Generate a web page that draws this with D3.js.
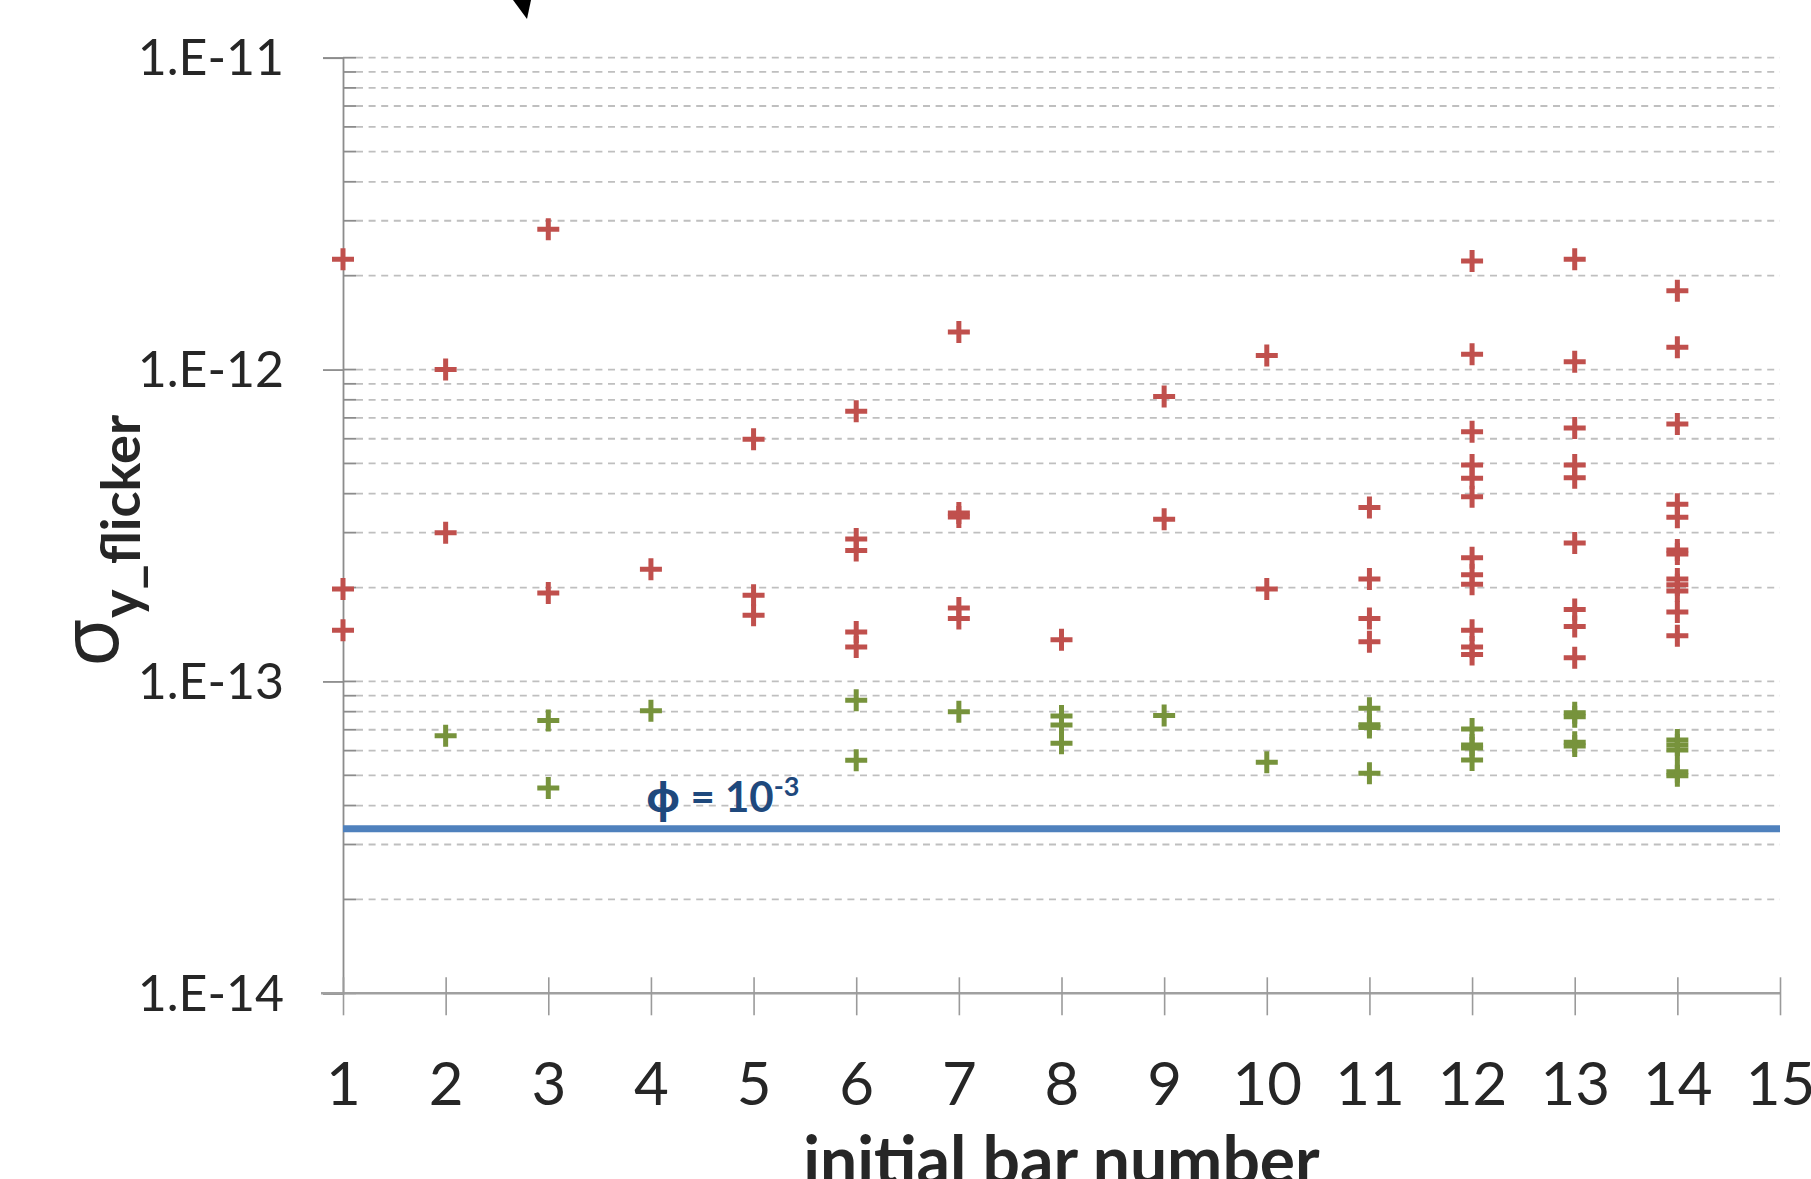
<!DOCTYPE html>
<html>
<head>
<meta charset="utf-8">
<script src="https://cdn.jsdelivr.net/npm/d3@7"></script>
<style>
  html, body { margin: 0; padding: 0; background: #fff; }
  svg { display: block; font-family: Lato, 'Noto Sans', sans-serif; }
</style>
</head>
<body>
<div id="chart"></div>
<script>
// bar numbers on the x axis
const barNumbers = d3.range(1, 16)
const yTickValues = [1e-11, 1e-12, 1e-13, 1e-14]

// sigma_y_flicker per initial bar, red points (upper cloud)
const redValues = [
  [2.26e-12, 1.98e-13, 1.46e-13],
  [1.0e-12, 3.0e-13],
  [2.82e-12, 1.92e-13],
  [2.29e-13],
  [5.98e-13, 1.89e-13, 1.63e-13],
  [7.35e-13, 2.86e-13, 2.63e-13, 1.44e-13, 1.29e-13],
  [1.32e-12, 3.47e-13, 3.37e-13, 1.72e-13, 1.59e-13],
  [1.36e-13],
  [8.19e-13, 3.31e-13],
  [1.11e-12, 1.98e-13],
  [3.61e-13, 2.13e-13, 1.59e-13, 1.34e-13],
  [2.23e-12, 1.12e-12, 6.32e-13, 4.94e-13, 4.48e-13, 3.91e-13, 2.49e-13, 2.2e-13, 2.05e-13, 1.46e-13, 1.29e-13, 1.22e-13],
  [2.26e-12, 1.06e-12, 6.49e-13, 4.94e-13, 4.5e-13, 2.78e-13, 1.7e-13, 1.5e-13, 1.19e-13],
  [1.79e-12, 1.18e-12, 6.69e-13, 3.7e-13, 3.36e-13, 2.64e-13, 2.56e-13, 2.13e-13, 2.04e-13, 1.95e-13, 1.67e-13, 1.4e-13]
]

// green points (lower cloud)
const greenValues = [
  [],
  [6.7e-14],
  [7.5e-14, 4.55e-14],
  [8.06e-14],
  [],
  [8.7e-14, 5.59e-14],
  [8.0e-14],
  [7.75e-14, 7.25e-14, 6.33e-14],
  [7.77e-14],
  [5.51e-14],
  [8.2e-14, 7.26e-14, 7.12e-14, 5.08e-14],
  [7.04e-14, 6.26e-14, 6.12e-14, 5.6e-14],
  [7.93e-14, 7.7e-14, 6.38e-14, 6.21e-14],
  [6.49e-14, 6.26e-14, 6.03e-14, 5.13e-14, 4.98e-14]
]

// threshold line for phi = 1e-3
const phiLevel = 3.37e-14

const width = 1811
const height = 1179
const plotLeft = 343
const plotRight = 1780
const plotTop = 57.7
const plotBottom = 993.3

const x = d3.scaleLinear().domain([1, 15]).range([plotLeft, plotRight])
const y = d3.scaleLog().domain([1e-14, 1e-11]).range([plotBottom, plotTop])

function flatten(series) {
  const out = []
  series.forEach((vals, i) => vals.forEach(v => out.push({ bar: i + 1, value: v })))
  return out
}

const svg = d3.select('#chart')
  .append('svg')
  .attr('width', width)
  .attr('height', height)

svg.append('rect').attr('width', width).attr('height', height).attr('fill', '#fff')

// fragment of an arrow from the figure above
svg.append('path')
  .attr('d', 'M513,0L527,19L531,0Z')
  .attr('fill', '#000')

// dashed gridlines at every log tick
const gridTicks = y.ticks()
svg.append('g').attr('class', 'grid')
  .selectAll('line')
  .data(gridTicks.filter(d => d > 1.001e-14))
  .enter().append('line')
  .attr('x1', plotLeft + 13)
  .attr('x2', plotRight)
  .attr('y1', d => y(d))
  .attr('y2', d => y(d))
  .attr('stroke', '#bfbfbf')
  .attr('stroke-width', 1.8)
  .attr('stroke-dasharray', '7,5.6')

// minor ticks inside the y axis
svg.append('g').attr('class', 'minor')
  .selectAll('line')
  .data(gridTicks)
  .enter().append('line')
  .attr('x1', plotLeft)
  .attr('x2', plotLeft + 13)
  .attr('y1', d => y(d))
  .attr('y2', d => y(d))
  .attr('stroke', '#8c8c8c')
  .attr('stroke-width', 1.8)

// y axis
const yAxis = d3.axisLeft(y)
  .tickValues(yTickValues)
  .tickSize(20)
  .tickPadding(39)
  .tickFormat(d => '1.E' + Math.round(Math.log10(d)))

const gy = svg.append('g')
  .attr('transform', `translate(${plotLeft},0)`)
  .call(yAxis)
gy.select('.domain').attr('stroke', '#8c8c8c').attr('stroke-width', 1.8)
gy.selectAll('.tick line').attr('stroke', '#8c8c8c').attr('stroke-width', 1.8)
gy.selectAll('.tick text')
  .attr('dy', null)
  .attr('y', 17)
  .attr('font-size', 50)
  .attr('font-family', 'Lato, sans-serif')
  .attr('fill', '#262626')

// x axis
const xAxis = d3.axisBottom(x)
  .tickValues(barNumbers)
  .tickSize(22)
  .tickSizeOuter(0)
  .tickFormat(d3.format('d'))

const gx = svg.append('g')
  .attr('transform', `translate(0,${plotBottom})`)
  .call(xAxis)
gx.select('.domain')
  .attr('d', `M${plotLeft - 22},0H${plotRight + 1}`)
  .attr('stroke', '#a0a0a0')
  .attr('stroke-width', 2.5)
gx.selectAll('.tick line')
  .attr('y1', -16)
  .attr('stroke', '#9a9a9a')
  .attr('stroke-width', 1.6)
gx.selectAll('.tick text')
  .attr('dy', null)
  .attr('y', 112)
  .attr('font-size', 60)
  .attr('font-family', 'Lato, sans-serif')
  .attr('fill', '#262626')

// phi threshold line
svg.append('line')
  .attr('x1', x(1))
  .attr('x2', x(15))
  .attr('y1', y(phiLevel))
  .attr('y2', y(phiLevel))
  .attr('stroke', '#4f81bd')
  .attr('stroke-width', 7)

const phiLabel = svg.append('text')
  .attr('x', 646)
  .attr('y', y(phiLevel) - 17)
  .attr('font-weight', 'bold')
  .attr('font-size', 42)
  .attr('fill', '#1f497d')
phiLabel.append('tspan').attr('font-family', "'Noto Sans', sans-serif").text('φ')
phiLabel.append('tspan').text(' = 10')
phiLabel.append('tspan').attr('font-size', 27).attr('dy', -16).text('-3')

// plus markers
const plus = 'M-11,0H11M0,-11V11'

svg.append('g').attr('class', 'red')
  .selectAll('path')
  .data(flatten(redValues))
  .enter().append('path')
  .attr('d', plus)
  .attr('transform', d => `translate(${x(d.bar)},${y(d.value)})`)
  .attr('stroke', '#c0504d')
  .attr('stroke-width', 5)
  .attr('fill', 'none')

svg.append('g').attr('class', 'green')
  .selectAll('path')
  .data(flatten(greenValues))
  .enter().append('path')
  .attr('d', plus)
  .attr('transform', d => `translate(${x(d.bar)},${y(d.value)})`)
  .attr('stroke', '#77933c')
  .attr('stroke-width', 5)
  .attr('fill', 'none')

// axis titles
svg.append('text')
  .attr('x', (plotLeft + plotRight) / 2)
  .attr('y', 1184)
  .attr('text-anchor', 'middle')
  .attr('font-weight', 'bold')
  .attr('font-size', 66)
  .attr('fill', '#262626')
  .text('initial bar number')

const yTitle = svg.append('text')
  .attr('transform', 'translate(118,667) rotate(-90)')
  .attr('fill', '#262626')
yTitle.append('tspan')
  .attr('font-family', "'Noto Sans', sans-serif")
  .attr('font-size', 80)
  .text('σ')
yTitle.append('tspan')
  .attr('font-size', 54)
  .attr('font-weight', 'bold')
  .attr('dy', 22)
  .text('y_flicker')
</script>
</body>
</html>
